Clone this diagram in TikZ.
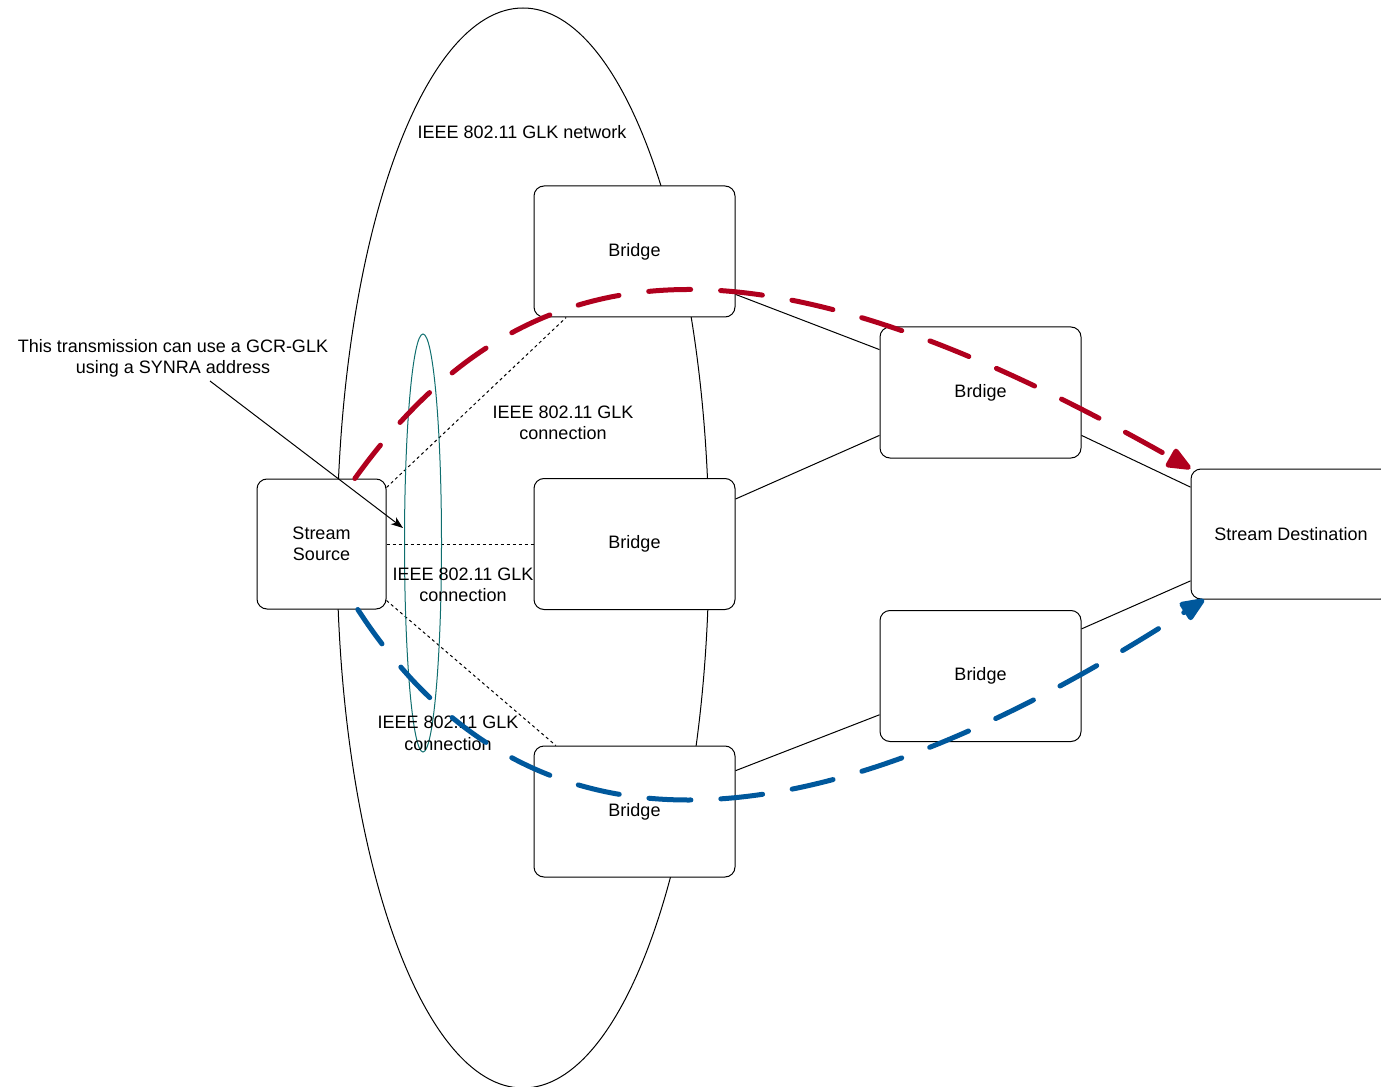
\documentclass[tikz,border=0pt]{standalone}
\usepackage{fontspec}
\setmainfont{Liberation Sans}
\usetikzlibrary{arrows.meta,shapes.geometric}
\definecolor{cred}{HTML}{B0001E}
\definecolor{cblue}{HTML}{00589C}
\definecolor{cteal}{HTML}{0F6E6E}
\begin{document}
\begin{tikzpicture}[x=0.75pt,y=-0.75pt,
  every node/.style={font=\fontsize{13.5}{16.2}\selectfont, align=center, inner sep=0pt},
  box/.style={draw, fill=white, rounded corners=7.5pt, minimum width=150.75pt, minimum height=98.25pt, line width=0.75pt},
  link/.style={line width=0.75pt},
  dlink/.style={line width=0.75pt, dash pattern=on 2.25pt off 2.25pt},
  flow/.style={line width=3.75pt, line cap=round, dash pattern=on 31.5pt off 22.5pt},
  flowtip/.style={-{Triangle[length=21pt,width=16.5pt,round=false]}}]
\useasboundingbox (0,0) rectangle (1381,1087);
\clip (0,0) rectangle (1381,1087);
% network ellipse
\node[draw, ellipse, line width=0.75pt, minimum width=279pt, minimum height=810pt] (net) at (523,548) {};
\node (netlbl) at (522,132) {IEEE 802.11 GLK network};
% boxes
\node[box] (b1) at (634.5,251.5) {Bridge};
\node[box] (b2) at (634.5,544) {Bridge};
\node[box] (b3) at (634.5,811.5) {Bridge};
\node[box] (b4) at (980.5,392.5) {Brdige};
\node[box] (b5) at (980.5,676) {Bridge};
\node[box, minimum width=96.75pt, minimum height=97.5pt] (src) at (321.5,544) {Stream\\Source};
\node[box, minimum width=150pt, minimum height=97.5pt] (dst) at (1291,534) {Stream Destination};
% solid links
\draw[link] (b1.-23.4) -- (b4.157.1);
\draw[link] (b4.-157.1) -- (b2.24.1);
\draw[link] (b4.-23.9) -- (dst.155.3);
\draw[link] (b5.25.1) -- (dst.-155.8);
\draw[link] (b5.-159.3) -- (b3.22.4);
% dashed links
\draw[dlink] (src.41) -- (b1.-136.7);
\draw[dlink] (src.east) -- (b2.west);
\draw[dlink] (src.-41) -- (b3.140.5);
% teal ellipse
\node[draw=cteal, ellipse, line width=0.75pt, minimum width=27.75pt, minimum height=313.5pt] (grp) at (423,543) {};
% connection labels
\node (c1) at (563,423) {IEEE 802.11 GLK\\connection};
\node (c2) at (463,585) {IEEE 802.11 GLK\\connection};
\node (c3) at (448,733) {IEEE 802.11 GLK\\connection};
% annotation
\node (note) at (173,358.5) {This transmission can use a GCR-GLK\\using a SYNRA address};
\coordinate (noteS) at (210,381);
\coordinate (noteT) at (403,528);
\draw[line width=0.75pt, -{Stealth[length=9pt,width=6.5pt,inset=2.5pt]}] (noteS) -- (noteT);
% flows
\draw[flow, cred, flowtip] (src.63.8) .. controls (540,221) and (785,239) .. (dst.north west);
\draw[flow, cblue, flowtip] (src.-61.6) .. controls (531,876) and (816,850) .. (dst.-143.9);
\end{tikzpicture}
\end{document}
